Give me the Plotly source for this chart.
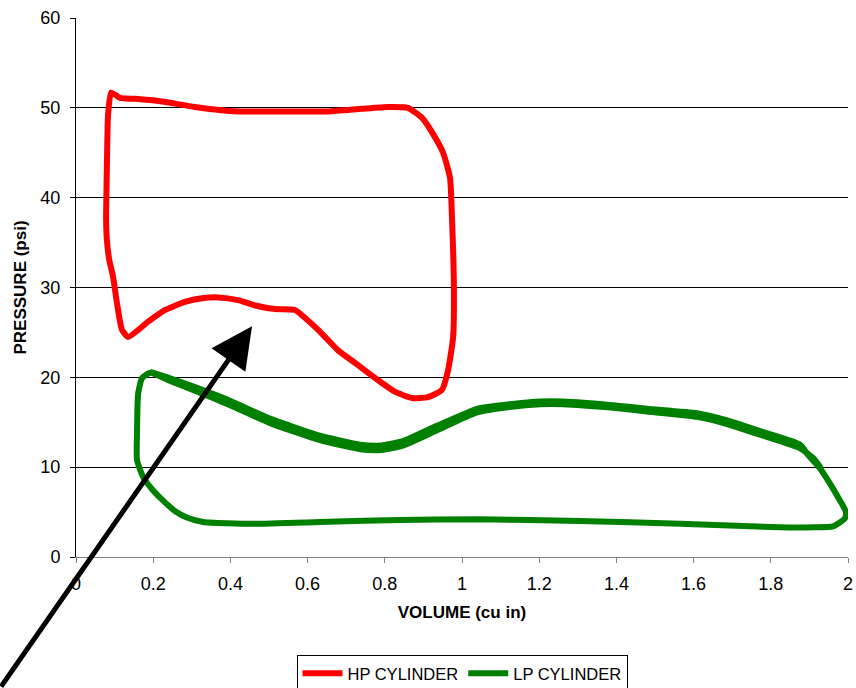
import plotly.graph_objects as go

# HP cylinder indicator loop (volume in cu in, pressure in psi)
hp_volume = [0.091, 0.114, 0.153, 0.223, 0.308, 0.420, 0.523, 0.653, 0.741, 0.808, 0.860,
             0.896, 0.922, 0.951, 0.969, 0.974, 0.979, 0.977, 0.964, 0.948, 0.912, 0.870,
             0.826, 0.782, 0.723, 0.679, 0.627, 0.567, 0.516, 0.464, 0.420, 0.368, 0.326,
             0.282, 0.231, 0.187, 0.135, 0.119, 0.106, 0.096, 0.086, 0.080, 0.078, 0.080,
             0.083, 0.091]
hp_pressure = [51.7, 51.1, 51.0, 50.7, 50.1, 49.6, 49.6, 49.6, 49.9, 50.1, 50.0,
               48.9, 47.3, 45.0, 42.2, 37.8, 30.1, 24.5, 20.8, 18.6, 17.8, 17.7,
               18.4, 19.7, 21.6, 23.0, 25.3, 27.5, 27.6, 28.0, 28.6, 28.9, 28.8,
               28.4, 27.5, 26.2, 24.5, 25.3, 28.3, 31.2, 33.1, 35.3, 37.7, 43.3,
               49.2, 51.7]

# LP cylinder indicator loop, recorded over slightly more than one cycle
lp_volume = [0.192, 0.244, 0.303, 0.399, 0.503, 0.632, 0.736, 0.788, 0.847, 0.935,
             1.039, 1.124, 1.202, 1.262, 1.391, 1.479, 1.609, 1.687, 1.780, 1.876,
             1.896, 1.927, 1.953, 1.979, 1.995, 1.992, 1.961, 1.910, 1.824, 1.565,
             1.306, 1.047, 0.805, 0.632, 0.459, 0.329, 0.287, 0.260, 0.225, 0.200,
             0.174, 0.158, 0.158, 0.161, 0.171, 0.192,
             0.244, 0.303, 0.399, 0.503, 0.632, 0.736, 0.788, 0.847, 0.935,
             1.039, 1.124, 1.202, 1.262, 1.391, 1.479, 1.609, 1.687, 1.780, 1.876,
             1.910, 1.930]
lp_pressure = [20.6, 19.9, 19.0, 17.4, 15.4, 13.5, 12.5, 12.4, 12.9, 14.6,
               16.5, 17.0, 17.3, 17.3, 16.9, 16.5, 16.0, 15.2, 13.9, 12.5,
               11.4, 9.9, 8.2, 6.3, 5.0, 4.3, 3.4, 3.3, 3.3, 3.7,
               4.0, 4.2, 4.1, 3.9, 3.7, 3.9, 4.4, 5.0, 6.3, 7.4,
               8.9, 10.8, 13.8, 18.2, 19.9, 20.5,
               19.6, 18.6, 16.9, 14.9, 13.0, 12.0, 11.9, 12.4, 14.1,
               16.1, 16.7, 17.0, 17.0, 16.6, 16.2, 15.6, 14.8, 13.5, 12.1,
               11.0, 9.9]

x_ticks = [0, 0.2, 0.4, 0.6, 0.8, 1, 1.2, 1.4, 1.6, 1.8, 2]
x_tick_text = ["0", "0.2", "0.4", "0.6", "0.8", "1", "1.2", "1.4", "1.6", "1.8", "2"]
y_ticks = [0, 10, 20, 30, 40, 50, 60]

FONT = "Liberation Sans, Arial, sans-serif"

fig = go.Figure()
fig.add_trace(go.Scatter(x=hp_volume, y=hp_pressure, mode="lines", name="HP CYLINDER",
                         line=dict(color="#ff0000", width=6, shape="spline", smoothing=0.5)))
fig.add_trace(go.Scatter(x=lp_volume, y=lp_pressure, mode="lines", name="LP CYLINDER",
                         line=dict(color="#008000", width=6, shape="spline", smoothing=0.5)))

# pointer arrow running in from below the axes
fig.add_annotation(x=0.456, y=25.7, xref="x", yref="y", text="", showarrow=True,
                   ax=-252, ay=366, axref="pixel", ayref="pixel",
                   arrowhead=2, arrowsize=1.65, arrowwidth=5, arrowcolor="#000000",
                   standoff=0)

fig.update_layout(
    width=856, height=688,
    margin=dict(l=76, r=8, t=18, b=131),
    paper_bgcolor="white", plot_bgcolor="white",
    font=dict(family=FONT, size=18, color="#000000"),
    showlegend=True,
    legend=dict(orientation="h", x=0.5, xanchor="center", xref="paper",
                y=0.048, yanchor="top", yref="container",
                bordercolor="#000000", borderwidth=1, bgcolor="white",
                font=dict(family=FONT, size=16.5), itemwidth=40, tracegroupgap=0),
    xaxis=dict(range=[0, 2], tickvals=x_ticks, ticktext=x_tick_text, automargin=False,
               showgrid=False, zeroline=False, showline=True, linecolor="#808080",
               linewidth=1, ticks="outside", ticklen=5, tickcolor="#808080",
               ticklabelstandoff=5,
               title=dict(text="<b>VOLUME (cu in)</b>", font=dict(size=17), standoff=13)),
    yaxis=dict(range=[0, 60], tickvals=y_ticks, automargin=False,
               showgrid=True, gridcolor="#000000",
               gridwidth=1, zeroline=False, showline=True, linecolor="#000000",
               linewidth=1, ticks="outside", ticklen=5, tickcolor="#000000",
               ticklabelstandoff=6,
               title=dict(text="<b>PRESSURE (psi)</b>", font=dict(size=17), standoff=9)),
)

fig.write_html("out.html")
